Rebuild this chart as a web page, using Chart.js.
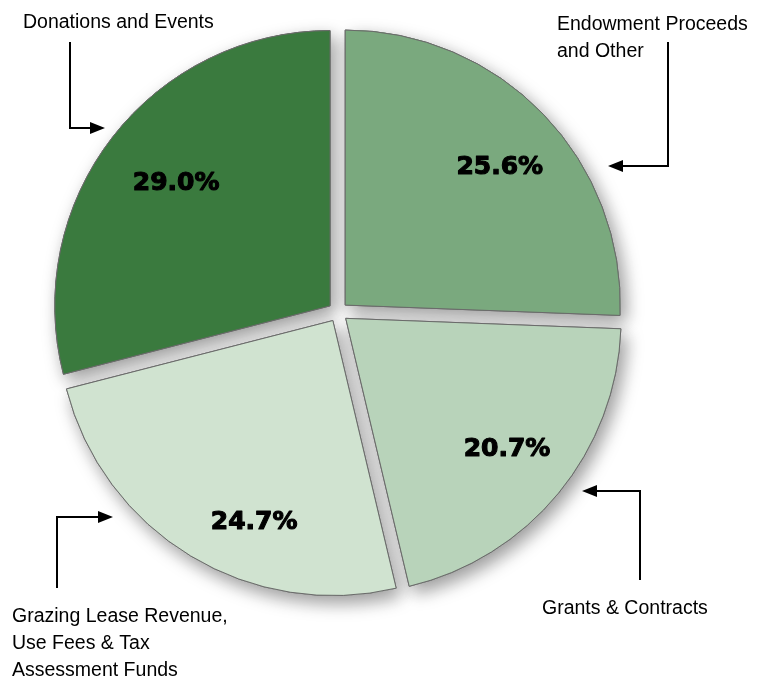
<!DOCTYPE html>
<html><head><meta charset="utf-8">
<script src="https://cdn.jsdelivr.net/npm/chart.js@4"></script>
<style>html,body{margin:0;padding:0;background:#fff;} #wrap{width:762px;height:684px;position:relative}</style>
</head><body><div id="wrap"><canvas id="c"></canvas></div>
<script>
const categories = ["Endowment Proceeds and Other", "Grants & Contracts", "Grazing Lease Revenue, Use Fees & Tax Assessment Funds", "Donations and Events"];
const shares = [25.6, 20.7, 24.7, 29.0];
const sliceColors = ["#7aa97e", "#b8d3ba", "#d0e3d0", "#3a7a3e"];
const labelLines = [["Endowment Proceeds", "and Other"], ["Grants & Contracts"], ["Grazing Lease Revenue,", "Use Fees & Tax", "Assessment Funds"], ["Donations and Events"]];

// annotation placement (text baseline of first line + arrow path)
const notePlacement = [
  {x: 557, y: 30, path: [[668, 42], [668, 166], [608, 166]]},
  {x: 542, y: 614, path: [[640, 580], [640, 491], [582, 491]]},
  {x: 12, y: 622, path: [[57, 588], [57, 517], [113, 517]]},
  {x: 23, y: 28, path: [[70, 42], [70, 128], [105, 128]]}
];
// small hand nudges of the percentage labels (px)
const pctNudge = [[6, 6], [2, 0], [28, 25], [9, 4]];

const GAP = 10;           // visual slice offset in px
const OFFSET = GAP * 4;   // Chart.js arc draws offset/4

const shadowPlugin = {
  id: 'shadowPass',
  beforeDatasetsDraw(chart) {
    const ctx = chart.ctx;
    const meta = chart.getDatasetMeta(0);
    ctx.save();
    ctx.shadowColor = 'rgba(0,0,0,0.4)';
    ctx.shadowBlur = 18;
    ctx.shadowOffsetX = 5;
    ctx.shadowOffsetY = 7;
    meta.data.forEach(a => a.draw(ctx));
    ctx.restore();
  }
};

const labelPlugin = {
  id: 'labels',
  afterDatasetsDraw(chart) {
    const ctx = chart.ctx;
    const meta = chart.getDatasetMeta(0);
    ctx.save();
    ctx.fillStyle = '#000';
    ctx.strokeStyle = '#000';
    ctx.lineWidth = 1.1;
    ctx.lineJoin = 'round';
    ctx.font = "bold 25px 'DejaVu Sans'";
    ctx.textAlign = 'center';
    ctx.textBaseline = 'middle';
    meta.data.forEach((arc, i) => {
      const mid = (arc.startAngle + arc.endAngle) / 2;
      const r = arc.outerRadius * 0.75 + GAP;
      const x = arc.x + Math.cos(mid) * r + pctNudge[i][0], y = arc.y + Math.sin(mid) * r + pctNudge[i][1];
      const t = shares[i].toFixed(1) + '%';
      ctx.fillText(t, x, y);
      ctx.strokeText(t, x, y);
    });
    // category annotations with arrows
    ctx.font = "19.5px 'Liberation Sans', sans-serif";
    ctx.textAlign = 'left';
    ctx.textBaseline = 'alphabetic';
    ctx.lineWidth = 2;
    ctx.lineJoin = 'miter';
    notePlacement.forEach((n, i) => {
      labelLines[i].forEach((t, k) => ctx.fillText(t, n.x, n.y + k * 27));
      const p = n.path;
      ctx.beginPath();
      ctx.moveTo(p[0][0], p[0][1]);
      for (let k = 1; k < p.length - 1; k++) ctx.lineTo(p[k][0], p[k][1]);
      const a = p[p.length - 2], b = p[p.length - 1];
      const ang = Math.atan2(b[1] - a[1], b[0] - a[0]);
      const hl = 15, hw = 6;
      const bx = b[0] - Math.cos(ang) * hl, by = b[1] - Math.sin(ang) * hl;
      ctx.lineTo(bx, by);
      ctx.stroke();
      ctx.beginPath();
      ctx.moveTo(b[0], b[1]);
      ctx.lineTo(bx - Math.sin(ang) * hw, by + Math.cos(ang) * hw);
      ctx.lineTo(bx + Math.sin(ang) * hw, by - Math.cos(ang) * hw);
      ctx.closePath();
      ctx.fill();
    });
    ctx.restore();
  }
};

new Chart(document.getElementById('c'), {
  type: 'pie',
  data: {
    labels: categories,
    datasets: [{
      data: shares,
      backgroundColor: sliceColors,
      borderColor: '#6a6a6a',
      borderWidth: 1,
      offset: OFFSET,
      radius: 275
    }]
  },
  options: {
    responsive: true,
    maintainAspectRatio: false,
    animation: false,
    layout: {padding: {left: 0, right: 86, top: 0, bottom: 60}},
    plugins: {legend: {display: false}, tooltip: {enabled: false}}
  },
  plugins: [shadowPlugin, labelPlugin]
});
</script>
</body></html>
